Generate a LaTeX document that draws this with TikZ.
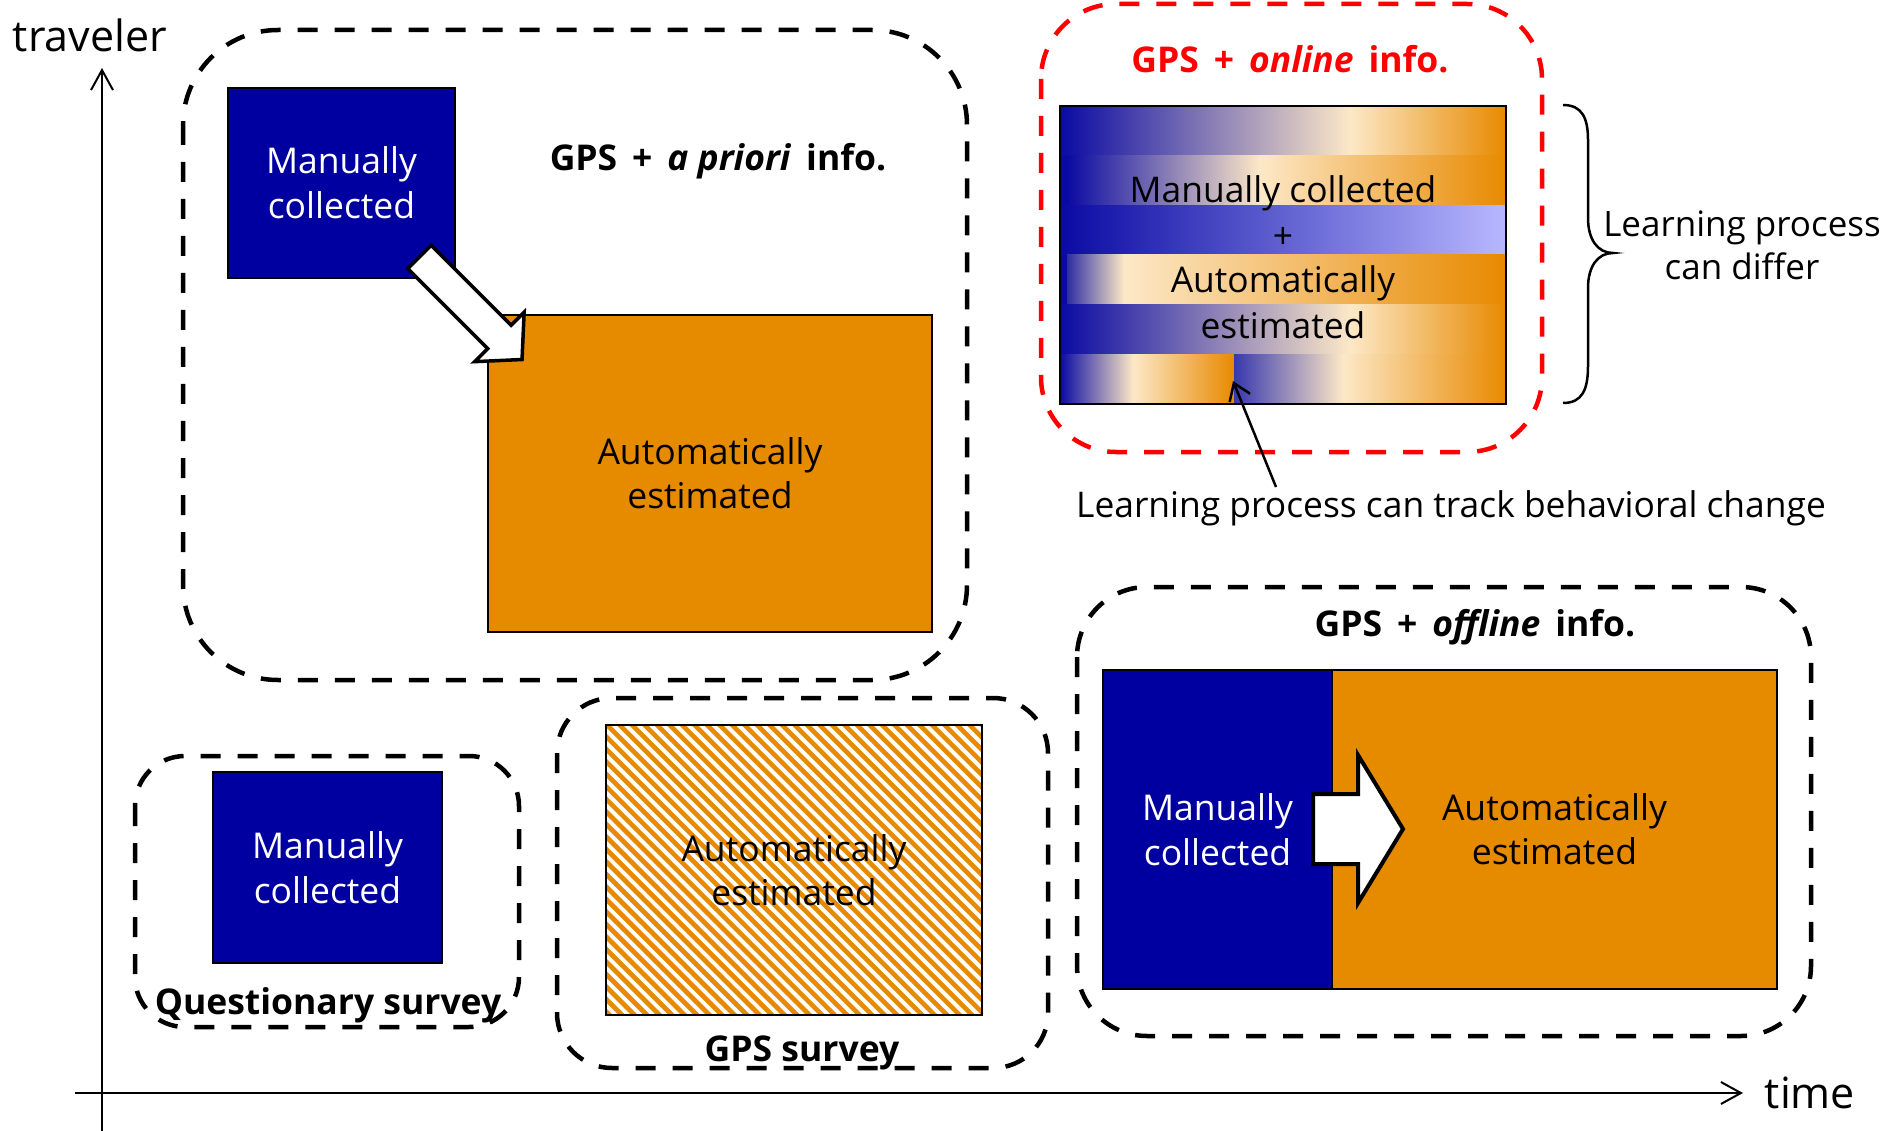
\documentclass[tikz,border=0pt]{standalone}
\usepackage{fontspec}
\setmainfont{Open Sans}
\usetikzlibrary{arrows.meta}
\definecolor{boxblue}{RGB}{0,0,160}
\definecolor{boxorange}{RGB}{230,138,0}
\definecolor{dashred}{RGB}{255,0,0}
\definecolor{gradblue}{RGB}{10,10,163}
\newcommand\myfs[2]{\fontsize{#1pt}{#2pt}\selectfont}
\newcommand\wsp{\hspace{0.42em}}
\pgfdeclarehorizontalshading{bandA}{100bp}{rgb(0bp)=(0.04,0.04,0.64); rgb(25bp)=(0.04,0.04,0.64); rgb(57.5bp)=(0.99,0.91,0.78); rgb(75bp)=(0.91,0.54,0); rgb(100bp)=(0.91,0.54,0)}
\pgfdeclarehorizontalshading{bandB}{100bp}{rgb(0bp)=(0.04,0.04,0.64); rgb(25bp)=(0.04,0.04,0.64); rgb(47bp)=(0.99,0.91,0.78); rgb(75bp)=(0.91,0.54,0); rgb(100bp)=(0.91,0.54,0)}
\pgfdeclarehorizontalshading{bandC}{100bp}{rgb(0bp)=(0.04,0.04,0.64); rgb(25bp)=(0.04,0.04,0.64); rgb(75bp)=(0.72,0.72,1); rgb(100bp)=(0.72,0.72,1)}
\pgfdeclarehorizontalshading{bandD}{100bp}{rgb(0bp)=(0.18,0.18,0.64); rgb(25bp)=(0.18,0.18,0.64); rgb(31.5bp)=(0.99,0.91,0.78); rgb(75bp)=(0.91,0.54,0); rgb(100bp)=(0.91,0.54,0)}
\pgfdeclarehorizontalshading{bandE}{100bp}{rgb(0bp)=(0.04,0.04,0.64); rgb(25bp)=(0.04,0.04,0.64); rgb(46bp)=(0.99,0.91,0.78); rgb(75bp)=(0.91,0.54,0); rgb(100bp)=(0.91,0.54,0)}
\pgfdeclarehorizontalshading{bandF}{100bp}{rgb(0bp)=(0.22,0.22,0.68); rgb(25bp)=(0.22,0.22,0.68); rgb(45bp)=(0.99,0.91,0.78); rgb(75bp)=(0.91,0.54,0); rgb(100bp)=(0.91,0.54,0)}
\begin{document}
\begin{tikzpicture}[x=1pt,y=-1pt,
  dashbox/.style={draw=black, line width=4.5pt, dash pattern=on 20pt off 17pt},
  reddashbox/.style={draw=dashred, line width=4.5pt, dash pattern=on 20pt off 17pt},
  bluebox/.style={draw=black, line width=2.5pt, fill=boxblue, text=white, align=center, inner sep=0pt, font={\myfs{35.5}{45}}},
  orangebox/.style={draw=black, line width=2.5pt, fill=boxorange, text=black, align=center, inner sep=0pt, font={\myfs{35.5}{44}}},
  blockarrow/.style={draw=black, fill=white, line width=4pt, line join=miter},
  axisline/.style={line width=2pt, -{Straight Barb[length=20pt,width=22pt]}},
  titletext/.style={font={\bfseries\myfs{35.5}{42}}, inner sep=0pt, anchor=base},
  plaintext/.style={font={\myfs{35.4}{42}}, inner sep=0pt, align=center},
  gradtext/.style={font={\myfs{35.4}{44}}, inner sep=0pt, anchor=base},
]
\useasboundingbox (0,0) rectangle (1893,1131);

% axes
\coordinate (yB) at (102,1131);
\coordinate (yT) at (102,68);
\coordinate (xL) at (75,1093);
\coordinate (xR) at (1743,1093);
\draw[axisline] (yB) -- (yT);
\draw[axisline] (xL) -- (xR);
\node[font={\myfs{43}{50}}, inner sep=0pt, anchor=base] (ylab) at (90,52) {traveler};
\node[font={\myfs{43}{50}}, inner sep=0pt, anchor=base] (xlab) at (1810,1108) {time};

% GPS + a priori
\draw[dashbox, rounded corners=95pt] (183,30) rectangle (967,680);
\node[titletext] (tApriori) at (718,171) {GPS\wsp+\wsp\textit{a priori}\wsp info.};
\node[bluebox, minimum width=227pt, minimum height=190pt] (mc1) at (341.5,183) {Manually\\collected};
\node[orangebox, minimum width=444pt, minimum height=317pt] (ae1) at (710,473.5) {Automatically\\estimated};
\begin{scope}[shift={(419.5,257)}, rotate=-45]
  \draw[blockarrow, line width=3.5pt] (0,16.5) -- (113,16.5) -- (113,35) -- (145,0) -- (113,-35) -- (113,-16.5) -- (0,-16.5) -- cycle;
\end{scope}

% Questionary survey
\draw[dashbox, rounded corners=50pt] (135,756) rectangle (519,1027);
\node[bluebox, minimum width=229pt, minimum height=191pt] (mc2) at (327.5,867.5) {Manually\\collected};
\node[titletext] (tQuest) at (328,1014) {Questionary survey};

% GPS survey
\draw[dashbox, rounded corners=55pt] (557,698) rectangle (1048,1068);
\begin{scope}
  \clip (606,724) rectangle (982,1014);
  \foreach \i in {0,12.5,...,700} {
    \draw[boxorange, line width=4.6pt] (296+\i,714) -- (606+\i,1024);
  }
\end{scope}
\node[draw=black, line width=2.5pt, minimum width=376pt, minimum height=290pt, inner sep=0pt, font={\myfs{35.5}{44}}, align=center] (ae2) at (794,870) {Automatically\\estimated};
\node[titletext] (tGPS) at (802,1061) {GPS survey};

% GPS + offline
\draw[dashbox, rounded corners=70pt] (1077,587) rectangle (1811,1036);
\node[titletext] (tOffline) at (1475,636) {GPS\wsp+\wsp\textit{offline}\wsp info.};
\node[bluebox, minimum width=229pt, minimum height=319pt] (mc3) at (1217.5,829.5) {Manually\\collected};
\node[orangebox, minimum width=445pt, minimum height=319pt] (ae3) at (1554.5,829.5) {Automatically\\estimated};
\draw[blockarrow] (1313,794) -- (1358,794) -- (1358,755) -- (1403,829) -- (1358,903) -- (1358,864) -- (1313,864) -- cycle;

% GPS + online
\draw[reddashbox, rounded corners=75pt] (1041,4) rectangle (1542,452);
\node[titletext, text=dashred] (tOnline) at (1290,72.5) {GPS\wsp+\wsp\textit{online}\wsp info.};
\fill[gradblue] (1060,106) rectangle (1506,404);
\shade[shading=bandA] (1060,106) rectangle (1506,155.67);
\shade[shading=bandB] (1067,155.67) rectangle (1506,205.33);
\shade[shading=bandC] (1060,205.33) rectangle (1506,255);
\shade[shading=bandD] (1067,255) rectangle (1506,304.67);
\shade[shading=bandA] (1060,304.67) rectangle (1506,354.33);
\shade[shading=bandE] (1060,354.33) rectangle (1234,404);
\shade[shading=bandF] (1234,354.33) rectangle (1506,404);
\node[draw=black, line width=2.5pt, minimum width=446pt, minimum height=298pt, inner sep=0pt] (grad) at (1283,255) {};
\node[gradtext] (g1) at (1283,203) {Manually collected};
\node[gradtext] (g2) at (1283,249) {+};
\node[gradtext] (g3) at (1283,293) {Automatically};
\node[gradtext] (g4) at (1283,339) {estimated};

% brace
\draw[line width=2.5pt] (1563,105) .. controls (1582,105) and (1588,118) .. (1588,140) -- (1588,218) .. controls (1588,240) and (1598,253) .. (1613,253) .. controls (1598,253) and (1588,266) .. (1588,288) -- (1588,366) .. controls (1588,390) and (1582,403) .. (1563,403);
\node[plaintext, font={\myfs{35}{43}}] (lpd) at (1742,245) {Learning process\\can differ};

% tracking annotation
\node[plaintext, anchor=base] (lpct) at (1451,517) {Learning process can track behavioral change};
\coordinate (trackS) at (1276,487);
\coordinate (trackT) at (1233,381);
\draw[line width=2.5pt, -{Straight Barb[length=16pt,width=22pt]}] (trackS) -- (trackT);
\end{tikzpicture}
\end{document}
